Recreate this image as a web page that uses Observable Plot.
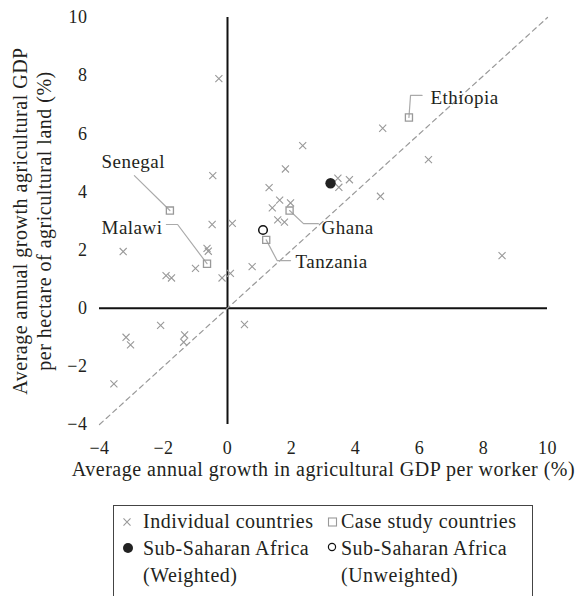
<!DOCTYPE html>
<html>
<head>
<meta charset="utf-8">
<script src="https://cdn.jsdelivr.net/npm/d3@7"></script>
<script src="https://cdn.jsdelivr.net/npm/@observablehq/plot@0.6"></script>
<style>
  html, body { margin: 0; padding: 0; background: #fff; overflow: hidden; }
  svg { display: block; }
  svg text { letter-spacing: 0.5px; }
  #legend { margin-left: 113px; margin-top: 7px; width: 418px; height: 91px;
            border: 1px solid #444; border-bottom: none; box-sizing: content-box; }
</style>
</head>
<body>
<div id="chart"></div>
<div id="legend"></div>
<script>
// ---- data ----
const xTicks = [-4, -2, 0, 2, 4, 6, 8, 10];
const yTicks = [-4, -2, 0, 2, 4, 6, 8, 10];

const countryX = [-0.27, -0.46, 2.35, 1.81, 1.30, 3.45, 3.81, 3.48, 4.78, 1.63, 1.40, 1.97, 1.57, 1.78, 0.77,
                  -0.48, 0.15, -3.26, -0.64, -0.60, -1.92, -1.75, -1.00, -0.17, 0.09, -2.09, -3.17, -3.03,
                  -1.34, -1.37, -3.55, 0.53, 4.85, 6.28, 8.58];
const countryY = [7.90, 4.56, 5.59, 4.79, 4.15, 4.47, 4.42, 4.16, 3.85, 3.72, 3.45, 3.62, 3.04, 2.96, 1.43,
                  2.88, 2.92, 1.95, 2.06, 1.96, 1.12, 1.04, 1.37, 1.04, 1.20, -0.59, -1.00, -1.26,
                  -0.92, -1.17, -2.60, -0.56, 6.19, 5.11, 1.81];

const caseNames = ["Ethiopia", "Senegal", "Malawi", "Ghana", "Tanzania"];
const caseX = [5.67, -1.80, -0.64, 1.94, 1.21];
const caseY = [6.56, 3.36, 1.53, 3.36, 2.35];
// label anchor points (data units)
const labelX = [6.34, -3.94, -2.03, 2.94, 2.125];
const labelY = [7.04, 4.84, 2.57, 2.57, 1.37];
const labelAlign = ["start", "start", "end", "start", "start"];
// leader line end (near label) and elbow (data units)
const leaderEndX = [6.08, -2.91, -1.91, 2.84, 1.97];
const leaderEndY = [7.32, 4.56, 2.88, 2.91, 1.64];
const leaderBendX = [5.72, -2.91, -1.56, 2.375, 1.55];
const leaderBendY = [7.32, 4.56, 2.88, 2.91, 1.64];

const ssaWeighted = {x: 3.22, y: 4.30};
const ssaUnweighted = {x: 1.11, y: 2.69};

const diagonalRange = [-4, 10];

const xLabel = "Average annual growth in agricultural GDP per worker (%)";
const yLabel = "Average annual growth agricultural GDP\nper hectare of agricultural land (%)";

const legendLabels = [
  ["Individual countries"],
  ["Case study countries"],
  ["Sub-Saharan Africa", "(Weighted)"],
  ["Sub-Saharan Africa", "(Unweighted)"]
];

// ---- build tables ----
const countries = countryX.map((x, i) => ({x, y: countryY[i]}));
const cases = caseNames.map((name, i) => ({name, x: caseX[i], y: caseY[i], lx: labelX[i], ly: labelY[i], align: labelAlign[i]}));
const leaders = caseNames.flatMap((name, i) => [
  {name, x: leaderEndX[i], y: leaderEndY[i]},
  {name, x: leaderBendX[i], y: leaderBendY[i]},
  {name, x: caseX[i], y: caseY[i]}
]);

const font = "'Liberation Serif', 'Times New Roman', serif";
const ink = "#231f20";

const chart = Plot.plot({
  width: 578,
  height: 498,
  marginTop: 17,
  marginLeft: 99,
  marginRight: 31,
  marginBottom: 74,
  x: {domain: [-4, 10]},
  y: {domain: [-4, 10]},
  style: {fontFamily: font, fontSize: "18px", color: ink, background: "white"},
  marks: [
    Plot.axisX(xTicks, {tickSize: 0, tickPadding: 17, label: null, fontSize: 18}),
    Plot.axisY(yTicks, {tickSize: 0, tickPadding: 12, label: null, fontSize: 18}),
    Plot.ruleY([0], {x1: diagonalRange[0], x2: diagonalRange[1], stroke: "#111", strokeWidth: 2}),
    Plot.ruleX([0], {y1: diagonalRange[0], y2: diagonalRange[1], stroke: "#111", strokeWidth: 2}),
    Plot.line(diagonalRange, {x: d => d, y: d => d, stroke: "#999", strokeWidth: 1.2, strokeDasharray: "5,4"}),
    Plot.line(leaders, {x: "x", y: "y", z: "name", stroke: "#aaa", strokeWidth: 1.2}),
    Plot.dot(countries, {x: "x", y: "y", symbol: "times", r: 3.3, stroke: "#999", strokeWidth: 1.1}),
    Plot.dot(cases, {x: "x", y: "y", symbol: "square", r: 4, fill: "none", stroke: "#999", strokeWidth: 1.3}),
    Plot.dot([ssaWeighted], {x: "x", y: "y", r: 5.2, fill: "#222", stroke: "none"}),
    Plot.dot([ssaUnweighted], {x: "x", y: "y", r: 4.3, fill: "none", stroke: "#111", strokeWidth: 1.5}),
    Plot.text(cases.filter(d => d.align === "start"), {x: "lx", y: "ly", text: "name", textAnchor: "start", lineAnchor: "bottom", fontSize: 19, fill: ink}),
    Plot.text(cases.filter(d => d.align === "end"), {x: "lx", y: "ly", text: "name", textAnchor: "end", lineAnchor: "bottom", fontSize: 19, fill: ink}),
    Plot.text([xLabel], {text: d => d, frameAnchor: "bottom", dy: 51, lineAnchor: "bottom", fontSize: 20, fill: ink}),
    Plot.text([yLabel], {text: d => d, frameAnchor: "left", dx: -68, rotate: -90, textAnchor: "middle", lineAnchor: "middle", lineHeight: 1.2, fontSize: 20, fill: ink})
  ]
});
document.getElementById("chart").append(chart);

// ---- legend ----
const lg = d3.select("#legend").append("svg")
  .attr("width", 418).attr("height", 91)
  .style("font-family", font).style("font-size", "20px").style("fill", ink);
const textX = [29, 227];
const baselines = [22, 49, 76];
const symbols = [
  g => g.append("path").attr("d", d3.symbol(d3.symbolTimes, 34)()).attr("transform", "translate(13,16)").attr("fill", "none").attr("stroke", "#999").attr("stroke-width", 1.1),
  g => g.append("rect").attr("x", 214.5).attr("y", 12).attr("width", 8).attr("height", 8).attr("fill", "none").attr("stroke", "#999").attr("stroke-width", 1.1),
  g => g.append("circle").attr("cx", 14).attr("cy", 42).attr("r", 5).attr("fill", "#222"),
  g => g.append("circle").attr("cx", 218).attr("cy", 41).attr("r", 3.6).attr("fill", "none").attr("stroke", "#111").attr("stroke-width", 1.2)
];
legendLabels.forEach((lines, i) => {
  symbols[i](lg);
  const col = i % 2;
  const row0 = i < 2 ? 0 : 1;
  lines.forEach((t, j) => {
    lg.append("text").attr("x", textX[col]).attr("y", baselines[row0 + j]).text(t);
  });
});
</script>
</body>
</html>
